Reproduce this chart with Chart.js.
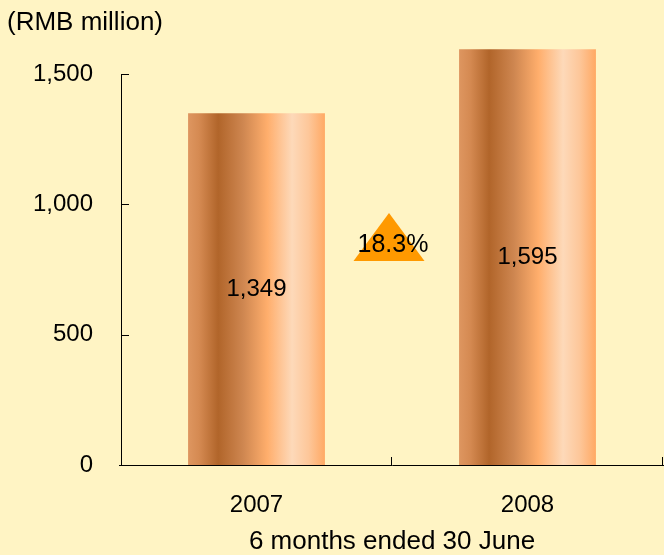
<!DOCTYPE html>
<html>
<head>
<meta charset="utf-8">
<script src="https://cdn.jsdelivr.net/npm/chart.js@4/dist/chart.umd.min.js"></script>
<style>
  html, body { margin: 0; padding: 0; background: #FFF4C4; }
  #wrap { width: 664px; height: 555px; }
</style>
</head>
<body>
<div id="wrap"><canvas id="c" width="664" height="555"></canvas></div>
<script>
// ---- data ----
const categories = ['2007', '2008'];
const profitValues = [1349, 1595];
const barLabels = ['1,349', '1,595'];
const yTickValues = [0, 500, 1000, 1500];
const yTickLabels = ['0', '500', '1,000', '1,500'];
const growthLabel = '18.3%';
const growthMarkerValue = 875;
const unitLabel = '(RMB million)';
const xAxisTitle = '6 months ended 30 June';

const FONT = 'Liberation Sans, Arial, sans-serif';
const BG = '#FFF4C4';
const BAR_PCT = 0.505;

function barGradient(ctx) {
  const chart = ctx.chart;
  const xs = chart.scales && chart.scales.x;
  if (!xs || !chart.chartArea) return '#D08850';
  const c = xs.getPixelForValue(ctx.dataIndex);
  const w = (xs.width / categories.length) * BAR_PCT;
  const g = chart.ctx.createLinearGradient(c - w / 2, 0, c + w / 2, 0);
  g.addColorStop(0.00, '#DE9660');
  g.addColorStop(0.08, '#D58A52');
  g.addColorStop(0.22, '#B1652A');
  g.addColorStop(0.40, '#CE8650');
  g.addColorStop(0.58, '#FFAE6C');
  g.addColorStop(0.76, '#FDD9B9');
  g.addColorStop(0.88, '#FDC79A');
  g.addColorStop(1.00, '#FFA964');
  return g;
}

const decorPlugin = {
  id: 'decor',
  beforeDraw(chart) {
    const ctx = chart.ctx;
    ctx.save();
    ctx.fillStyle = BG;
    ctx.fillRect(0, 0, chart.width, chart.height);
    ctx.restore();
  },
  afterDatasetsDraw(chart) {
    const ctx = chart.ctx;
    const xs = chart.scales.x, ys = chart.scales.y;
    const area = chart.chartArea;
    ctx.save();
    // bar value labels
    ctx.fillStyle = '#000';
    ctx.font = '24px ' + FONT;
    ctx.textAlign = 'center';
    ctx.textBaseline = 'middle';
    const meta = chart.getDatasetMeta(0);
    meta.data.forEach((bar, i) => {
      const y = (bar.y + bar.base) / 2;
      ctx.fillText(barLabels[i], bar.x, y);
    });
    // growth triangle
    const gx = (xs.getPixelForValue(0) + xs.getPixelForValue(1)) / 2 - 3;
    const gy = ys.getPixelForValue(growthMarkerValue);
    const hw = 35.5, hh = 24;
    ctx.fillStyle = '#FF9900';
    ctx.beginPath();
    ctx.moveTo(gx, gy - hh);
    ctx.lineTo(gx + hw, gy + hh);
    ctx.lineTo(gx - hw, gy + hh);
    ctx.closePath();
    ctx.fill();
    ctx.fillStyle = '#000';
    ctx.font = '25px ' + FONT;
    ctx.fillText(growthLabel, gx + 4, gy + 8);
    // inside tick marks
    ctx.strokeStyle = '#000';
    ctx.lineWidth = 1;
    ctx.beginPath();
    yTickValues.forEach(v => {
      if (v === 0) return;
      const y = Math.round(ys.getPixelForValue(v)) + 0.5;
      ctx.moveTo(area.left, y);
      ctx.lineTo(area.left + 8, y);
    });
    for (let i = 1; i <= categories.length; i++) {
      const x = Math.round(area.left + (area.right - area.left) * i / categories.length) - 0.5;
      ctx.moveTo(x, area.bottom);
      ctx.lineTo(x, area.bottom - 8);
    }
    ctx.moveTo(area.left - 2, Math.round(area.bottom) + 0.5);
    ctx.lineTo(area.left, Math.round(area.bottom) + 0.5);
    ctx.stroke();
    // unit label
    ctx.font = '26px ' + FONT;
    ctx.textAlign = 'left';
    ctx.textBaseline = 'middle';
    ctx.fillText(unitLabel, 7, 23);
    ctx.restore();
  }
};

new Chart(document.getElementById('c'), {
  type: 'bar',
  data: {
    labels: categories,
    datasets: [{
      data: profitValues,
      backgroundColor: barGradient,
      borderWidth: 0,
      categoryPercentage: 1,
      barPercentage: BAR_PCT,
      clip: false
    }]
  },
  options: {
    responsive: false,
    animation: false,
    devicePixelRatio: 1,
    layout: { padding: { left: 0, top: 74, right: 1, bottom: 0 } },
    plugins: { legend: { display: false }, tooltip: { enabled: false } },
    scales: {
      x: {
        grid: { display: false },
        border: { display: true, color: '#000', width: 1 },
        ticks: { color: '#000', font: { family: FONT, size: 24 }, padding: 18 },
        title: { display: true, text: xAxisTitle, color: '#000', font: { family: FONT, size: 26 }, padding: { top: 0, bottom: -2 } },
        afterFit(s) { s.height = 90; }
      },
      y: {
        min: 0, max: 1500,
        grid: { display: false },
        border: { display: true, color: '#000', width: 1 },
        afterBuildTicks(s) { s.ticks = yTickValues.map(v => ({ value: v })); },
        ticks: {
          color: '#000', font: { family: FONT, size: 24 }, padding: 20,
          callback: (v) => yTickLabels[yTickValues.indexOf(v)]
        },
        afterFit(s) { s.width = 121; }
      }
    }
  },
  plugins: [decorPlugin]
});
</script>
</body>
</html>
